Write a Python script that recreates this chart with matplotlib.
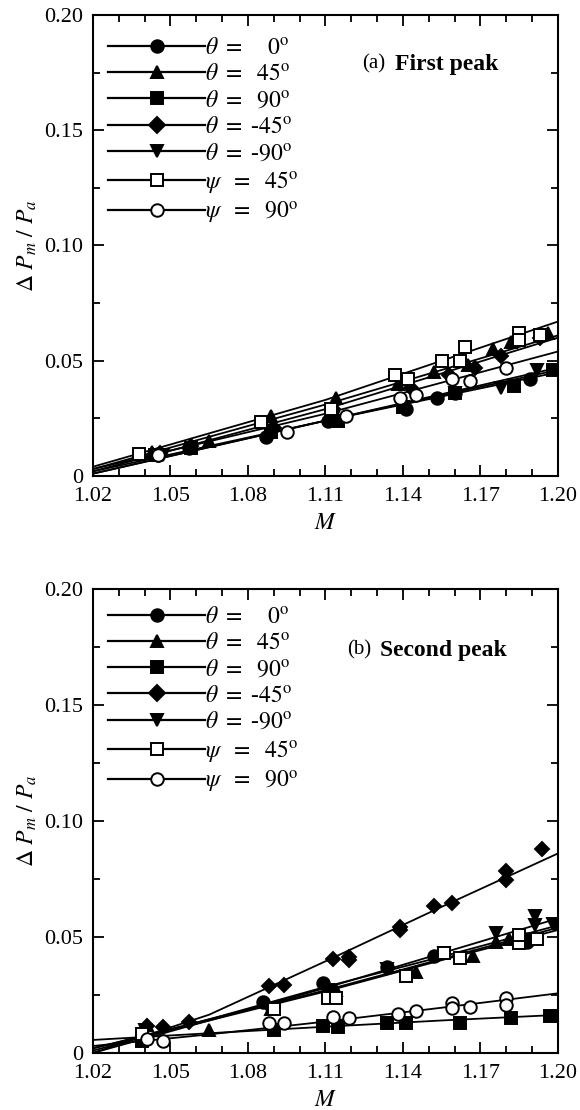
import matplotlib

matplotlib.use("Agg", force=True)

import matplotlib.pyplot as plt
from matplotlib.ticker import MultipleLocator, FuncFormatter

plt.rcParams.update(
    {
        "font.family": ["Liberation Serif", "DejaVu Serif"],
        "mathtext.fontset": "stix",
        "font.size": 15,
        "axes.linewidth": 1.5,
        "lines.linewidth": 1.2,
    }
)

# legend labels and marker styles (order as in the legend)
LABELS = [
    r"$\theta\ =\ \ \ \ 0^{\rm o}$",
    r"$\theta\ =\ \ 45^{\rm o}$",
    r"$\theta\ =\ \ 90^{\rm o}$",
    r"$\theta\ =\ $-$45^{\rm o}$",
    r"$\theta\ =\ $-$90^{\rm o}$",
    r"$\psi\ \ =\ \ 45^{\rm o}$",
    r"$\psi\ \ =\ \ 90^{\rm o}$",
]
MARKERS = ["o", "^", "s", "D", "v", "s", "o"]
FILLED = [True, True, True, True, True, False, False]

# ---- panel (a): first peak, measured points ----
a_M = [
    [1.045, 1.057, 1.087, 1.111, 1.141, 1.153, 1.160, 1.189],
    [1.043, 1.065, 1.089, 1.114, 1.138, 1.152, 1.165, 1.175, 1.182, 1.196],
    [1.044, 1.058, 1.089, 1.115, 1.140, 1.160, 1.183, 1.198],
    [1.046, 1.058, 1.090, 1.113, 1.143, 1.158, 1.168, 1.178, 1.193],
    [1.047, 1.088, 1.113, 1.140, 1.160, 1.178, 1.192],
    [1.038, 1.085, 1.112, 1.137, 1.142, 1.155, 1.162, 1.164, 1.185, 1.185, 1.193],
    [1.045, 1.095, 1.118, 1.139, 1.145, 1.159, 1.166, 1.180],
]
a_P = [
    [0.009, 0.012, 0.017, 0.024, 0.029, 0.034, 0.036, 0.042],
    [0.0105, 0.015, 0.026, 0.034, 0.040, 0.045, 0.048, 0.055, 0.058, 0.062],
    [0.009, 0.012, 0.019, 0.024, 0.030, 0.036, 0.039, 0.046],
    [0.010, 0.013, 0.021, 0.029, 0.038, 0.044, 0.047, 0.052, 0.060],
    [0.009, 0.019, 0.025, 0.030, 0.036, 0.038, 0.046],
    [0.0095, 0.0235, 0.029, 0.044, 0.042, 0.050, 0.050, 0.056, 0.062, 0.059, 0.061],
    [0.009, 0.019, 0.026, 0.034, 0.035, 0.042, 0.041, 0.047],
]
# fitted curves read at a few Mach numbers
a_fit_M = [1.02, 1.11, 1.20]
a_fit = [
    [0.001, 0.024, 0.046],
    [0.003, 0.031, 0.061],
    [0.002, 0.024, 0.047],
    [0.002, 0.029, 0.060],
    [0.001, 0.024, 0.045],
    [0.004, 0.033, 0.067],
    [0.003, 0.027, 0.054],
]

# ---- panel (b): second peak, measured points ----
b_M = [
    [1.039, 1.086, 1.109, 1.134, 1.152, 1.188, 1.188],
    [1.041, 1.065, 1.089, 1.114, 1.145, 1.167, 1.176, 1.181, 1.200],
    [1.039, 1.090, 1.109, 1.115, 1.134, 1.141, 1.162, 1.182, 1.197],
    [1.041, 1.047, 1.057, 1.088, 1.094, 1.113, 1.119, 1.119, 1.139, 1.139,
     1.152, 1.159, 1.180, 1.180, 1.194],
    [1.040, 1.088, 1.111, 1.134, 1.156, 1.176, 1.191, 1.191, 1.198],
    [1.039, 1.090, 1.111, 1.114, 1.141, 1.156, 1.162, 1.185, 1.185, 1.192],
    [1.041, 1.047, 1.088, 1.094, 1.113, 1.119, 1.138, 1.145, 1.159, 1.159,
     1.166, 1.180, 1.180],
]
b_P = [
    [0.006, 0.022, 0.030, 0.037, 0.042, 0.049, 0.048],
    [0.012, 0.010, 0.019, 0.027, 0.035, 0.042, 0.048, 0.049, 0.056],
    [0.005, 0.010, 0.0115, 0.011, 0.013, 0.013, 0.013, 0.015, 0.016],
    [0.0115, 0.011, 0.0135, 0.029, 0.0295, 0.0405, 0.0415, 0.040, 0.0545,
     0.053, 0.0635, 0.0645, 0.0785, 0.0745, 0.088],
    [0.010, 0.019, 0.027, 0.036, 0.043, 0.0515, 0.059, 0.055, 0.0555],
    [0.008, 0.019, 0.0235, 0.0235, 0.033, 0.043, 0.041, 0.0475, 0.051, 0.049],
    [0.006, 0.005, 0.013, 0.013, 0.0157, 0.015, 0.017, 0.018, 0.0217, 0.0193,
     0.020, 0.0236, 0.0207],
]
b_fit_M = [1.02, 1.065, 1.11, 1.155, 1.20]
b_fit = [
    [0.001, 0.0145, 0.0285, 0.0415, 0.055],
    [0.002, 0.0145, 0.027, 0.0405, 0.054],
    [0.0056, 0.0085, 0.0113, 0.014, 0.0164],
    [0.000, 0.0165, 0.0395, 0.063, 0.086],
    [0.000, 0.0140, 0.028, 0.043, 0.058],
    [0.002, 0.0140, 0.0265, 0.040, 0.053],
    [0.003, 0.0080, 0.0135, 0.0195, 0.0257],
]

# panel tag, title, tag x, title x, text y, legend anchor y (axes fraction)
PANELS = [
    ("(a)", "First peak", 0.578, 0.649, 0.893, 1.0, a_M, a_P, a_fit_M, a_fit),
    ("(b)", "Second peak", 0.546, 0.617, 0.868, 1.011, b_M, b_P, b_fit_M, b_fit),
]

fig = plt.figure(figsize=(5.8, 11.1), dpi=100)
ax_a = fig.add_axes([0.1603, 0.5712, 0.8017, 0.4153])
ax_b = fig.add_axes([0.1603, 0.0514, 0.8017, 0.4180])


def ytick_fmt(v, pos):
    return "0" if abs(v) < 1e-9 else f"{v:.2f}"


for ax, (tag, title, tx, ttx, ty, ly, Ms, Ps, fM, fits) in zip([ax_a, ax_b], PANELS):
    for i in range(len(LABELS)):
        face = "black" if FILLED[i] else "white"
        ms = 9 if MARKERS[i] in ("o", "^", "v") else 8
        if MARKERS[i] == "D":
            ms = 7.5
        # fitted curve
        ax.plot(fM, fits[i], color="black", lw=1.3, zorder=2)
        ax.plot(Ms[i], Ps[i], ls="none", marker=MARKERS[i], ms=ms,
                mfc=face, mec="black", mew=1.4, zorder=3)

    # legend proxies: line with marker in the middle
    handles = []
    for i in range(len(LABELS)):
        face = "black" if FILLED[i] else "white"
        (h,) = ax.plot([], [], color="black", lw=1.6, marker=MARKERS[i],
                       ms=9 if MARKERS[i] != "D" else 8, mfc=face,
                       mec="black", mew=1.4)
        handles.append(h)
    ax.legend(handles, LABELS, loc="upper left", bbox_to_anchor=(-0.015, ly),
              frameon=False, handlelength=4.1, handletextpad=0.0,
              labelspacing=0.2, borderaxespad=0.55, borderpad=0.4,
              fontsize=17, numpoints=1)

    ax.text(tx, ty, tag, transform=ax.transAxes,
            fontsize=15, ha="left", va="center")
    ax.text(ttx, ty, title, transform=ax.transAxes, fontsize=17,
            fontweight="bold", ha="left", va="center")

    ax.set_xlim(1.02, 1.20)
    ax.set_ylim(0, 0.20)
    ax.xaxis.set_major_locator(MultipleLocator(0.03))
    ax.xaxis.set_minor_locator(MultipleLocator(0.01))
    ax.yaxis.set_major_locator(MultipleLocator(0.05))
    ax.yaxis.set_minor_locator(MultipleLocator(0.025))
    ax.xaxis.set_major_formatter(FuncFormatter(lambda v, p: f"{v:.2f}"))
    ax.yaxis.set_major_formatter(FuncFormatter(ytick_fmt))
    ax.tick_params(which="both", direction="in", top=True, right=True,
                   labelsize=16, width=1.3)
    ax.tick_params(axis="x", which="major", pad=8)
    ax.tick_params(axis="y", which="major", pad=7)
    ax.tick_params(which="major", length=8)
    ax.tick_params(which="minor", length=5)
    ax.set_xlabel(r"$M$", fontsize=17, labelpad=5)
    ax.set_ylabel(r"$\mathit{\Delta}\ P_m\ /\ P_a$", fontsize=17, labelpad=4)

fig.savefig("out.png", dpi=100)
